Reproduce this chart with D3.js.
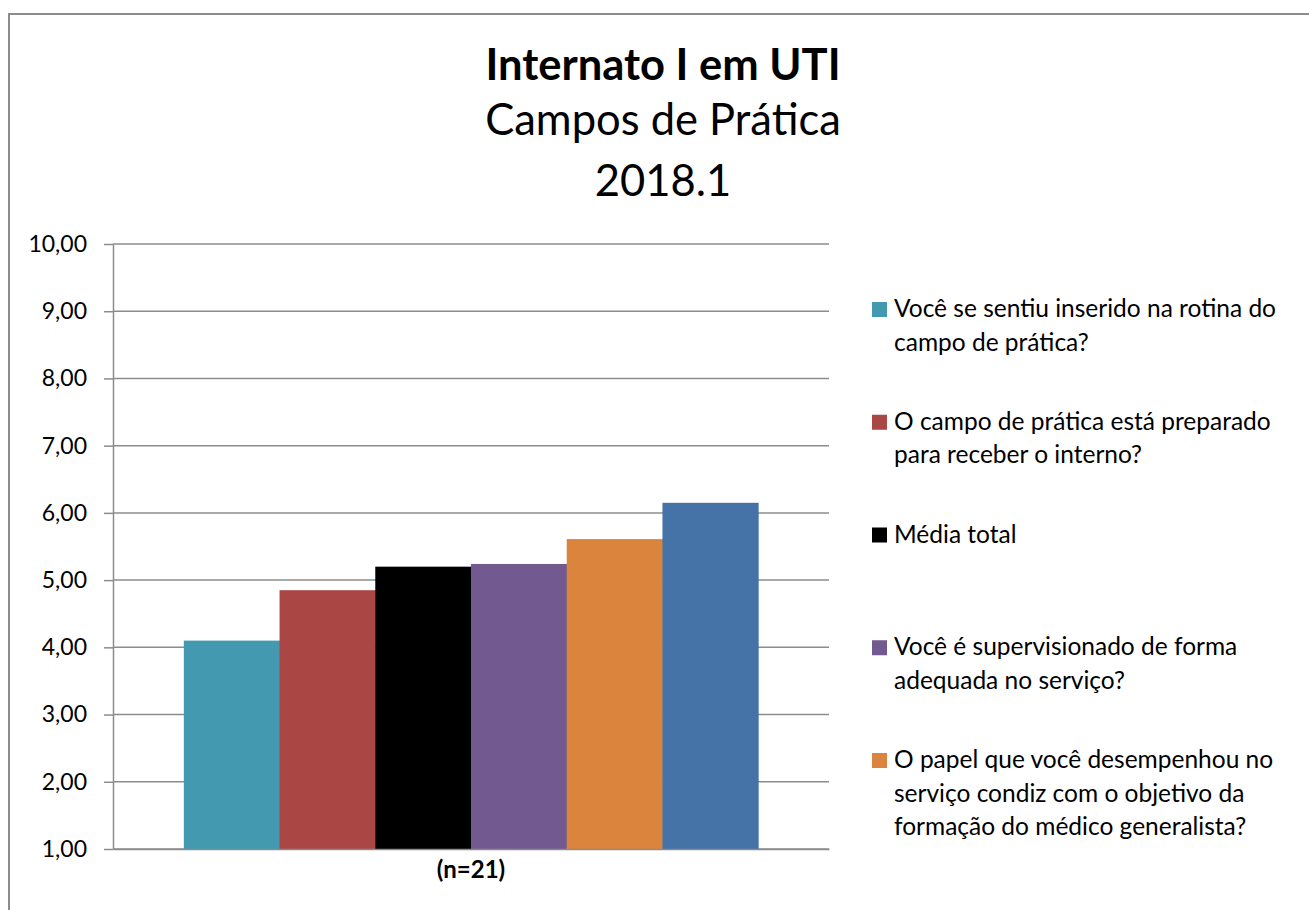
<!DOCTYPE html>
<html>
<head>
<meta charset="utf-8">
<script src="https://cdn.jsdelivr.net/npm/d3@7"></script>
<style>
  html, body { margin: 0; padding: 0; background: #fff; }
  svg { display: block; font-family: Lato, "Open Sans", sans-serif; }
</style>
</head>
<body>
<svg id="chart" width="1309" height="910"></svg>
<script>
// chart data
const titleLines = ["Internato I em UTI", "Campos de Prática", "2018.1"];
const categories = ["(n=21)"];
const seriesValues = [4.10, 4.85, 5.20, 5.24, 5.61, 6.15];
const seriesColors = ["#4299b0", "#aa4744", "#000000", "#72598f", "#db843d", "#4572a7"];
const legendLabels = [
  ["Você se sentiu inserido na rotina do", "campo de prática?"],
  ["O campo de prática está preparado", "para receber o interno?"],
  ["Média total"],
  ["Você é supervisionado de forma", "adequada no serviço?"],
  ["O papel que você desempenhou no", "serviço condiz com o objetivo da", "formação do médico generalista?"]
];
const yTicks = [1, 2, 3, 4, 5, 6, 7, 8, 9, 10];

const svg = d3.select('#chart');
const gridColor = '#8c8c8c';

// outer chart border (right/bottom edges are outside the picture)
svg.append('rect')
  .attr('x', 9).attr('y', 14)
  .attr('width', 1400).attr('height', 1000)
  .attr('fill', 'none')
  .attr('stroke', gridColor)
  .attr('stroke-width', 2);

// title
const titleY = [80, 135, 196];
svg.append('g').selectAll('text')
  .data(titleLines)
  .enter()
  .append('text')
  .attr('x', 663)
  .attr('y', (d, i) => titleY[i])
  .attr('text-anchor', 'middle')
  .attr('font-size', 43.5)
  .attr('font-weight', (d, i) => i === 0 ? 700 : 400)
  .attr('fill', '#000')
  .text(d => d);

const plot = { left: 113, right: 829, top: 244, bottom: 849 };

const y = d3.scaleLinear()
  .domain([1, 10])
  .range([plot.bottom, plot.top]);

const x0 = d3.scaleBand()
  .domain(categories)
  .range([plot.left, plot.right]);

// gap of ~150% of a bar width split on both sides
const x1 = d3.scaleBand()
  .domain(d3.range(seriesValues.length))
  .range([0, x0.bandwidth()])
  .paddingOuter(0.74)
  .paddingInner(0);

// gridlines
svg.append('g')
  .selectAll('line')
  .data(yTicks)
  .enter()
  .append('line')
  .attr('x1', plot.left)
  .attr('x2', plot.right)
  .attr('y1', d => y(d))
  .attr('y2', d => y(d))
  .attr('stroke', gridColor)
  .attr('stroke-width', 1.5);

// bars
svg.append('g')
  .selectAll('rect')
  .data(seriesValues)
  .enter()
  .append('rect')
  .attr('x', (d, i) => x0(categories[0]) + x1(i))
  .attr('width', x1.bandwidth() + 0.5)
  .attr('y', d => y(d))
  .attr('height', d => plot.bottom - y(d))
  .attr('fill', (d, i) => seriesColors[i]);

// y axis
const yAxis = svg.append('g')
  .attr('transform', `translate(${plot.left},0)`)
  .call(d3.axisLeft(y)
    .tickValues(yTicks)
    .tickSizeInner(9)
    .tickSizeOuter(0)
    .tickPadding(17)
    .tickFormat(d => d3.format('.2f')(d).replace('.', ',')));
yAxis.select('.domain').attr('stroke', gridColor).attr('stroke-width', 1.5);
yAxis.selectAll('.tick line').attr('stroke', gridColor).attr('stroke-width', 1.5);
yAxis.selectAll('.tick text')
  .attr('font-size', 23)
  .attr('font-family', 'Lato, sans-serif')
  .attr('fill', '#000');

// x axis
const xAxis = svg.append('g')
  .attr('transform', `translate(0,${plot.bottom})`)
  .call(d3.axisBottom(x0).tickSize(0).tickPadding(12));
xAxis.select('.domain').attr('stroke', gridColor).attr('stroke-width', 1.5);
xAxis.selectAll('.tick text')
  .attr('font-size', 24)
  .attr('font-weight', 700)
  .attr('font-family', 'Lato, sans-serif')
  .attr('fill', '#000');

// legend (only the first five entries fit in the picture)
const legendTop = 317, legendStep = 112.75, lineH = 33.5;
const legend = svg.append('g')
  .selectAll('g')
  .data(legendLabels)
  .enter()
  .append('g')
  .attr('transform', (d, i) => `translate(872,${legendTop + i * legendStep})`);

legend.append('rect')
  .attr('x', 0).attr('y', -15)
  .attr('width', 15).attr('height', 15)
  .attr('fill', (d, i) => seriesColors[i]);

legend.append('text')
  .attr('font-size', 24.5)
  .attr('fill', '#000')
  .selectAll('tspan')
  .data(d => d)
  .enter()
  .append('tspan')
  .attr('x', 22)
  .attr('y', (d, i) => i * lineH)
  .text(d => d);
</script>
</body>
</html>
